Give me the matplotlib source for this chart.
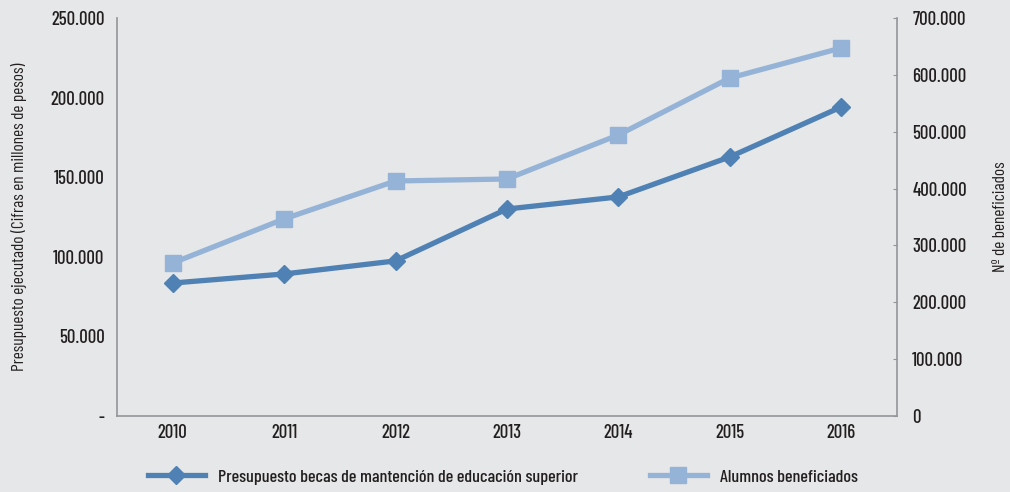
import matplotlib.pyplot as plt
from matplotlib.ticker import FuncFormatter

years = ["2010", "2011", "2012", "2013", "2014", "2015", "2016"]
presupuesto = [83500, 89200, 97400, 130000, 137600, 162700, 194100]
alumnos = [269000, 346500, 413300, 416800, 494200, 594400, 647200]

dark = "#4f81b4"
light = "#95b3d7"
bg = "#e6e7e8"
txt = "#231f20"

plt.rcParams['font.family'] = ['Barlow Condensed', 'DejaVu Sans']
plt.rcParams['font.weight'] = 500

def miles(v, pos, zero):
    if v == 0:
        return zero
    return f"{int(v):,}".replace(",", ".")

fig = plt.figure(figsize=(10.1, 4.92), dpi=100, facecolor=bg)
ax = fig.add_axes([0.1158, 0.1545, 0.7722, 0.809])
ax.set_facecolor(bg)
ax2 = ax.twinx()

x = range(len(years))
l2, = ax2.plot(x, alumnos, color=light, lw=3.8, marker="s", ms=11.5,
               label="Alumnos beneficiados")
l1, = ax.plot(x, presupuesto, color=dark, lw=3.8, marker="D", ms=9.5,
              label="Presupuesto becas de mantención de educación superior")
ax.set_zorder(ax2.get_zorder() + 1)
ax.patch.set_visible(False)

ax.set_xlim(-0.5, 6.5)
ax.set_ylim(0, 250000)
ax2.set_ylim(0, 700000)
ax.set_yticks(range(0, 250001, 50000))
ax2.set_yticks(range(0, 700001, 100000))
ax.yaxis.set_major_formatter(FuncFormatter(lambda v, p: miles(v, p, "-")))
ax2.yaxis.set_major_formatter(FuncFormatter(lambda v, p: miles(v, p, "0")))
ax.set_xticks(list(x))
ax.set_xticklabels(years)

for a in (ax, ax2):
    for s in a.spines.values():
        s.set_visible(False)
    a.tick_params(labelsize=13.5, colors=txt)
ax.spines["left"].set_visible(True)
ax.spines["bottom"].set_visible(True)
ax2.spines["right"].set_visible(True)
for s in (ax.spines["left"], ax.spines["bottom"], ax2.spines["right"]):
    s.set_color("#939598")
    s.set_linewidth(1.2)
ax.tick_params(axis="y", length=0, pad=9)
ax.tick_params(axis="x", length=0, pad=6)
ax2.tick_params(axis="y", direction="in", length=3, color="#939598", pad=11)

ax.set_ylabel("Presupuesto ejecutado (Cifras en millones de pesos)", fontsize=12.5,
              color=txt, labelpad=17)
ax2.set_ylabel("Nº de beneficiados", fontsize=12.5, color=txt, labelpad=19)

for h, xpos in ((l1, 0.1465), (l2, 0.6436)):
    fig.legend(handles=[h], loc="center left", bbox_to_anchor=(xpos, 0.031),
               frameon=False, fontsize=13, handlelength=3.15, handletextpad=0.72,
               borderpad=0, borderaxespad=0, labelcolor=txt)

fig.savefig("out.png", dpi=100, facecolor=bg)
